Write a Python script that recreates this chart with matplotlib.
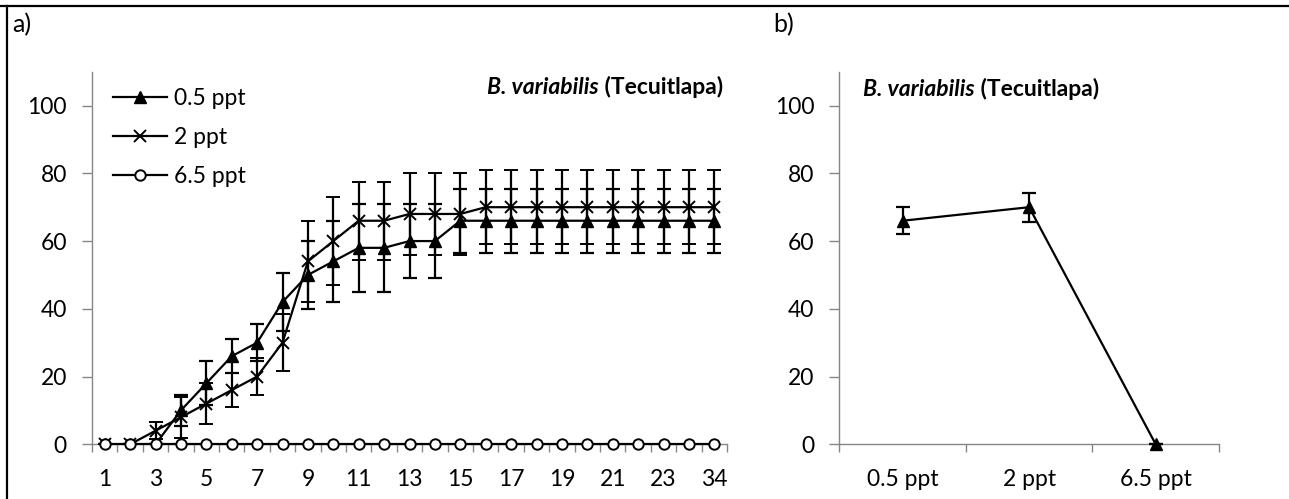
import matplotlib
matplotlib.use("Agg")
import matplotlib.pyplot as plt
from matplotlib.lines import Line2D
from matplotlib.ticker import FixedLocator, NullFormatter

plt.rcParams['font.family'] = ['Lato', 'DejaVu Sans']

# ---------------- data ----------------
days = ['1', '2', '3', '4', '5', '6', '7', '8', '9', '10', '11', '12', '13', '14',
        '15', '16', '17', '18', '19', '20', '21', '22', '23', '24', '34']
s05 = [0, 0, 0, 10, 18, 26, 30, 42, 50, 54, 58, 58, 60, 60, 66,
       66, 66, 66, 66, 66, 66, 66, 66, 66, 66]
e05 = [0, 0, 0, 4.5, 6.5, 5, 5.5, 8.5, 10, 12, 13, 13, 11, 11, 9.4,
       9.4, 9.4, 9.4, 9.4, 9.4, 9.4, 9.4, 9.4, 9.4, 9.4]
s2 = [0, 0, 4, 8, 12, 16, 20, 30, 54, 60, 66, 66, 68, 68, 68,
      70, 70, 70, 70, 70, 70, 70, 70, 70, 70]
e2 = [0, 0, 2.5, 6, 6, 5, 5.5, 8.5, 12, 13, 11.5, 11.5, 12, 12, 12,
      11, 11, 11, 11, 11, 11, 11, 11, 11, 11]
s65 = [0, 0, 0, 0, 0, 0, 0, 0, 0, 0, 0, 0, 0, 0, 0,
       0, 0, 0, 0, 0, 0, 0, 0, 0, 0]

conc = ['0.5 ppt', '2 ppt', '6.5 ppt']
final = [66, 70, 0]
final_err = [4, 4.3, 0]

yticks = [0, 20, 40, 60, 80, 100]
title = 'B. variabilis'
title_rest = ' (Tecuitlapa)'

# ---------------- figure ----------------
W, H = 1289, 499
fig = plt.figure(figsize=(W / 100, H / 100), dpi=100)

def px(x0, y0, x1, y1):
    return [x0 / W, 1 - y1 / H, (x1 - x0) / W, (y1 - y0) / H]

axa = fig.add_axes(px(92, 71.7, 727, 444.3))
axb = fig.add_axes(px(839.3, 71.7, 1219, 444.3))

spine_col = '#868686'
FS = 16.5
LW = 1.6
ekw = dict(elinewidth=1.6, capsize=4.7, capthick=1.6, ecolor='black')

def style(ax, n):
    for s in ['top', 'right']:
        ax.spines[s].set_visible(False)
    for s in ['left', 'bottom']:
        ax.spines[s].set_color(spine_col)
        ax.spines[s].set_linewidth(1.0)
    ax.set_ylim(0, 110)
    ax.set_xlim(-0.5, n - 0.5)
    ax.set_yticks(yticks)
    ax.tick_params(axis='y', length=7, width=1, color=spine_col, pad=11, labelsize=FS)
    ax.xaxis.set_minor_locator(FixedLocator([i - 0.5 for i in range(n + 1)]))
    ax.xaxis.set_minor_formatter(NullFormatter())
    ax.tick_params(axis='x', which='minor', length=6, width=1, color=spine_col)
    ax.tick_params(axis='x', which='major', length=0, pad=18, labelsize=FS)

# panel a
n = len(days)
xs = list(range(n))
axa.errorbar(xs, s05, yerr=e05, color='black', lw=LW, marker='^', ms=8.5,
             mfc='black', mec='black', **ekw, zorder=3)
axa.errorbar(xs, s2, yerr=e2, color='black', lw=LW, marker='x', ms=8.5,
             mew=1.4, **ekw, zorder=3)
axa.plot(xs, s65, color='black', lw=LW, marker='o', ms=7.5, mfc='white',
         mec='black', mew=1.4, zorder=4, clip_on=False)
style(axa, n)
axa.set_xticks(xs[::2])
axa.set_xticklabels(days[::2])

# Compose title: bold italic species + bold rest, right aligned
t2 = axa.text(723 / W, 1 - 87 / H, title_rest, transform=fig.transFigure,
              ha='right', va='center', fontsize=FS, fontweight='bold')
fig.canvas.draw()
r = fig.canvas.get_renderer()
bb = t2.get_window_extent(r)
axa.text(bb.x0 / W, 1 - 87 / H, title, transform=fig.transFigure, ha='right',
         va='center', fontsize=FS, fontweight='bold', style='italic')

handles = [Line2D([], [], color='black', lw=LW, marker='^', ms=8.5),
           Line2D([], [], color='black', lw=LW, marker='x', ms=8.5, mew=1.4),
           Line2D([], [], color='black', lw=LW, marker='o', ms=7.5, mfc='white', mew=1.4)]
fig.legend(handles, conc, loc='upper left', bbox_to_anchor=(113 / W, 1 - 88 / H),
           frameon=False, fontsize=FS, handlelength=2.35, handletextpad=0.3,
           labelspacing=0.78, borderpad=0, borderaxespad=0)

# panel b
xb = list(range(len(conc)))
axb.errorbar(xb, final, yerr=final_err, color='black', lw=LW, marker='^', ms=8.5,
             mfc='black', mec='black', **ekw, zorder=3, clip_on=False)
style(axb, len(conc))
axb.set_xticks(xb)
axb.set_xticklabels(conc)
t3 = axb.text(863 / W, 1 - 89 / H, title, transform=fig.transFigure, ha='left',
              va='center', fontsize=FS, fontweight='bold', style='italic')
fig.canvas.draw()
bb3 = t3.get_window_extent(r)
axb.text(bb3.x1 / W, 1 - 89 / H, title_rest, transform=fig.transFigure, ha='left',
         va='center', fontsize=FS, fontweight='bold')

# panel labels
fig.text(12 / W, 1 - 25 / H, 'a)', fontsize=18, ha='left', va='center')
fig.text(773 / W, 1 - 25 / H, 'b)', fontsize=18, ha='left', va='center')

# border lines
fig.add_artist(Line2D([0, 1], [1 - 6 / H, 1 - 6 / H], transform=fig.transFigure,
                      color='black', lw=1.6))
fig.add_artist(Line2D([7 / W, 7 / W], [0, 1 - 6 / H], transform=fig.transFigure,
                      color='black', lw=1.6))

fig.savefig('out.png', dpi=100)
